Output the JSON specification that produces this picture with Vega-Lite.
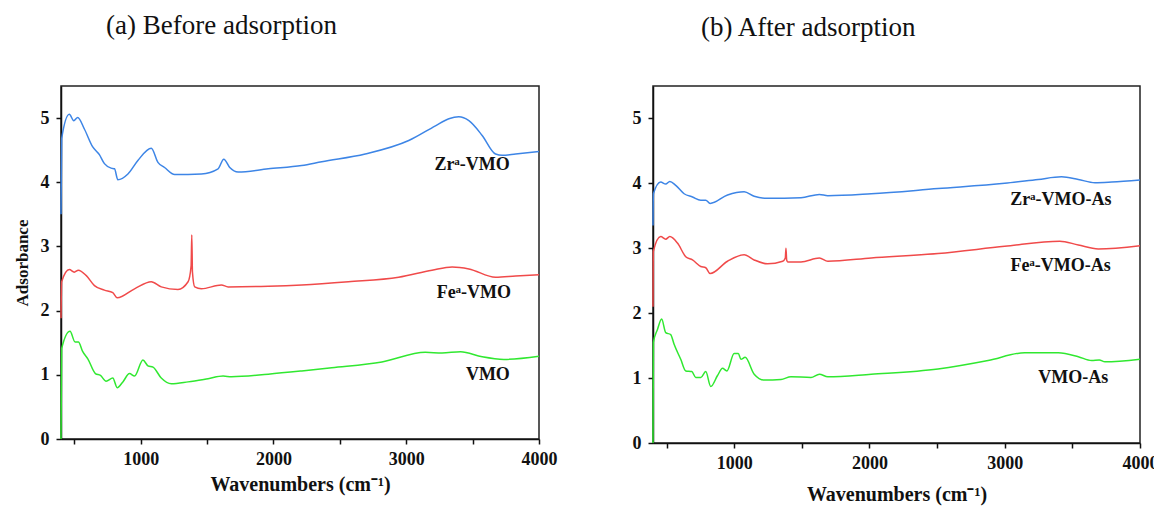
{
  "$schema": "https://vega.github.io/schema/vega-lite/v6.json",
  "background": "white",
  "padding": {"left": 12, "top": 11, "right": 0, "bottom": 5},
  "bounds": "flush",
  "spacing": 114,
  "config": {
    "view": {"stroke": "#222", "strokeWidth": 1.5},
    "font": "Liberation Serif",
    "style": {"guide-label": {"font": "Liberation Serif", "fontWeight": "bold"}, "guide-title": {"font": "Liberation Serif", "fontWeight": "bold"}},
    "axis": {
      "grid": false,
      "domainColor": "#111",
      "domainWidth": 1.5,
      "tickColor": "#111",
      "tickWidth": 1.5,
      "tickSize": 5,
      "labelFont": "Liberation Serif",
      "labelFontWeight": "bold",
      "labelFontSize": 18,
      "labelColor": "#111",
      "labelOverlap": false,
      "labelFlush": false,
      "titleFont": "Liberation Serif",
      "titleFontWeight": "bold",
      "titleColor": "#111"
    },
    "title": {"font": "Liberation Serif", "fontWeight": "normal", "fontSize": 27, "color": "#111", "anchor": "start", "frame": "group"}
  },
  "datasets": {
    "before": [
      {"series": "Zr", "x": 400, "y": 3.5},
      {"series": "Zr", "x": 405, "y": 4.68},
      {"series": "Zr", "x": 463, "y": 5.06},
      {"series": "Zr", "x": 496, "y": 4.96},
      {"series": "Zr", "x": 526, "y": 5.01},
      {"series": "Zr", "x": 576, "y": 4.83},
      {"series": "Zr", "x": 639, "y": 4.55},
      {"series": "Zr", "x": 689, "y": 4.43},
      {"series": "Zr", "x": 727, "y": 4.29},
      {"series": "Zr", "x": 778, "y": 4.22},
      {"series": "Zr", "x": 803, "y": 4.21},
      {"series": "Zr", "x": 828, "y": 4.04},
      {"series": "Zr", "x": 904, "y": 4.13},
      {"series": "Zr", "x": 979, "y": 4.34},
      {"series": "Zr", "x": 1080, "y": 4.53},
      {"series": "Zr", "x": 1130, "y": 4.31},
      {"series": "Zr", "x": 1180, "y": 4.23},
      {"series": "Zr", "x": 1256, "y": 4.12},
      {"series": "Zr", "x": 1457, "y": 4.13},
      {"series": "Zr", "x": 1583, "y": 4.21},
      {"series": "Zr", "x": 1626, "y": 4.36},
      {"series": "Zr", "x": 1671, "y": 4.23},
      {"series": "Zr", "x": 1734, "y": 4.16},
      {"series": "Zr", "x": 1961, "y": 4.21},
      {"series": "Zr", "x": 2213, "y": 4.26},
      {"series": "Zr", "x": 2364, "y": 4.32},
      {"series": "Zr", "x": 2691, "y": 4.44},
      {"series": "Zr", "x": 3019, "y": 4.65},
      {"series": "Zr", "x": 3220, "y": 4.88},
      {"series": "Zr", "x": 3321, "y": 4.99},
      {"series": "Zr", "x": 3396, "y": 5.02},
      {"series": "Zr", "x": 3472, "y": 4.96},
      {"series": "Zr", "x": 3572, "y": 4.73},
      {"series": "Zr", "x": 3673, "y": 4.44},
      {"series": "Zr", "x": 3723, "y": 4.42},
      {"series": "Zr", "x": 3824, "y": 4.44},
      {"series": "Zr", "x": 4000, "y": 4.48},
      {"series": "Fe", "x": 400, "y": 1.88},
      {"series": "Fe", "x": 405, "y": 2.45},
      {"series": "Fe", "x": 463, "y": 2.64},
      {"series": "Fe", "x": 500, "y": 2.6},
      {"series": "Fe", "x": 530, "y": 2.63},
      {"series": "Fe", "x": 589, "y": 2.55},
      {"series": "Fe", "x": 652, "y": 2.39},
      {"series": "Fe", "x": 727, "y": 2.32},
      {"series": "Fe", "x": 790, "y": 2.28},
      {"series": "Fe", "x": 823, "y": 2.2},
      {"series": "Fe", "x": 954, "y": 2.34},
      {"series": "Fe", "x": 1080, "y": 2.45},
      {"series": "Fe", "x": 1155, "y": 2.37},
      {"series": "Fe", "x": 1281, "y": 2.33},
      {"series": "Fe", "x": 1357, "y": 2.45},
      {"series": "Fe", "x": 1380, "y": 2.7},
      {"series": "Fe", "x": 1385, "y": 3.18},
      {"series": "Fe", "x": 1390, "y": 2.6},
      {"series": "Fe", "x": 1407, "y": 2.37},
      {"series": "Fe", "x": 1457, "y": 2.34},
      {"series": "Fe", "x": 1608, "y": 2.4},
      {"series": "Fe", "x": 1659, "y": 2.37},
      {"series": "Fe", "x": 1961, "y": 2.38},
      {"series": "Fe", "x": 2213, "y": 2.4},
      {"series": "Fe", "x": 2565, "y": 2.45},
      {"series": "Fe", "x": 2943, "y": 2.52},
      {"series": "Fe", "x": 3194, "y": 2.63},
      {"series": "Fe", "x": 3346, "y": 2.68},
      {"series": "Fe", "x": 3472, "y": 2.65},
      {"series": "Fe", "x": 3673, "y": 2.52},
      {"series": "Fe", "x": 3824, "y": 2.54},
      {"series": "Fe", "x": 4000, "y": 2.56},
      {"series": "VMO", "x": 400, "y": 0},
      {"series": "VMO", "x": 405, "y": 1.41},
      {"series": "VMO", "x": 468, "y": 1.68},
      {"series": "VMO", "x": 506, "y": 1.51},
      {"series": "VMO", "x": 531, "y": 1.51},
      {"series": "VMO", "x": 564, "y": 1.36},
      {"series": "VMO", "x": 602, "y": 1.25},
      {"series": "VMO", "x": 659, "y": 1.02},
      {"series": "VMO", "x": 697, "y": 0.99},
      {"series": "VMO", "x": 740, "y": 0.9},
      {"series": "VMO", "x": 790, "y": 0.95},
      {"series": "VMO", "x": 823, "y": 0.8},
      {"series": "VMO", "x": 866, "y": 0.89},
      {"series": "VMO", "x": 916, "y": 1.02},
      {"series": "VMO", "x": 954, "y": 0.98},
      {"series": "VMO", "x": 1017, "y": 1.23},
      {"series": "VMO", "x": 1055, "y": 1.14},
      {"series": "VMO", "x": 1093, "y": 1.12},
      {"series": "VMO", "x": 1155, "y": 0.95},
      {"series": "VMO", "x": 1231, "y": 0.86},
      {"series": "VMO", "x": 1357, "y": 0.89},
      {"series": "VMO", "x": 1508, "y": 0.94},
      {"series": "VMO", "x": 1621, "y": 0.98},
      {"series": "VMO", "x": 1684, "y": 0.97},
      {"series": "VMO", "x": 1961, "y": 1.01},
      {"series": "VMO", "x": 2213, "y": 1.06},
      {"series": "VMO", "x": 2439, "y": 1.11},
      {"series": "VMO", "x": 2817, "y": 1.2},
      {"series": "VMO", "x": 3144, "y": 1.35},
      {"series": "VMO", "x": 3270, "y": 1.34},
      {"series": "VMO", "x": 3409, "y": 1.36},
      {"series": "VMO", "x": 3572, "y": 1.28},
      {"series": "VMO", "x": 3736, "y": 1.24},
      {"series": "VMO", "x": 4000, "y": 1.29}
    ],
    "after": [
      {"series": "Zr", "x": 400, "y": 3.35},
      {"series": "Zr", "x": 403, "y": 3.84},
      {"series": "Zr", "x": 457, "y": 4.02},
      {"series": "Zr", "x": 494, "y": 3.99},
      {"series": "Zr", "x": 524, "y": 4.03},
      {"series": "Zr", "x": 568, "y": 3.97},
      {"series": "Zr", "x": 630, "y": 3.84},
      {"series": "Zr", "x": 692, "y": 3.79},
      {"series": "Zr", "x": 753, "y": 3.74},
      {"series": "Zr", "x": 790, "y": 3.74},
      {"series": "Zr", "x": 822, "y": 3.69},
      {"series": "Zr", "x": 951, "y": 3.82},
      {"series": "Zr", "x": 1074, "y": 3.87},
      {"series": "Zr", "x": 1148, "y": 3.8},
      {"series": "Zr", "x": 1247, "y": 3.77},
      {"series": "Zr", "x": 1494, "y": 3.78},
      {"series": "Zr", "x": 1630, "y": 3.83},
      {"series": "Zr", "x": 1692, "y": 3.81},
      {"series": "Zr", "x": 2013, "y": 3.84},
      {"series": "Zr", "x": 2507, "y": 3.92},
      {"series": "Zr", "x": 3000, "y": 4.0},
      {"series": "Zr", "x": 3247, "y": 4.06},
      {"series": "Zr", "x": 3420, "y": 4.1},
      {"series": "Zr", "x": 3544, "y": 4.06},
      {"series": "Zr", "x": 3667, "y": 4.01},
      {"series": "Zr", "x": 3791, "y": 4.02},
      {"series": "Zr", "x": 4000, "y": 4.05},
      {"series": "Fe", "x": 400, "y": 2.1},
      {"series": "Fe", "x": 402, "y": 2.95},
      {"series": "Fe", "x": 457, "y": 3.18},
      {"series": "Fe", "x": 494, "y": 3.14},
      {"series": "Fe", "x": 524, "y": 3.18},
      {"series": "Fe", "x": 581, "y": 3.08},
      {"series": "Fe", "x": 642, "y": 2.87},
      {"series": "Fe", "x": 692, "y": 2.82},
      {"series": "Fe", "x": 753, "y": 2.72},
      {"series": "Fe", "x": 790, "y": 2.7},
      {"series": "Fe", "x": 822, "y": 2.61},
      {"series": "Fe", "x": 951, "y": 2.8},
      {"series": "Fe", "x": 1074, "y": 2.9},
      {"series": "Fe", "x": 1148, "y": 2.82},
      {"series": "Fe", "x": 1247, "y": 2.76},
      {"series": "Fe", "x": 1359, "y": 2.8},
      {"series": "Fe", "x": 1378, "y": 2.85},
      {"series": "Fe", "x": 1383, "y": 3.0},
      {"series": "Fe", "x": 1388, "y": 2.82},
      {"series": "Fe", "x": 1396, "y": 2.79},
      {"series": "Fe", "x": 1494, "y": 2.79},
      {"series": "Fe", "x": 1630, "y": 2.85},
      {"series": "Fe", "x": 1692, "y": 2.8},
      {"series": "Fe", "x": 2013, "y": 2.85},
      {"series": "Fe", "x": 2507, "y": 2.92},
      {"series": "Fe", "x": 3000, "y": 3.03},
      {"series": "Fe", "x": 3407, "y": 3.11},
      {"series": "Fe", "x": 3544, "y": 3.05},
      {"series": "Fe", "x": 3692, "y": 2.99},
      {"series": "Fe", "x": 4000, "y": 3.04},
      {"series": "VMO", "x": 400, "y": 0},
      {"series": "VMO", "x": 403, "y": 1.55},
      {"series": "VMO", "x": 433, "y": 1.75},
      {"series": "VMO", "x": 464, "y": 1.91},
      {"series": "VMO", "x": 494, "y": 1.7},
      {"series": "VMO", "x": 531, "y": 1.67},
      {"series": "VMO", "x": 556, "y": 1.52},
      {"series": "VMO", "x": 605, "y": 1.29},
      {"series": "VMO", "x": 642, "y": 1.11},
      {"series": "VMO", "x": 687, "y": 1.1},
      {"series": "VMO", "x": 716, "y": 1.01},
      {"series": "VMO", "x": 753, "y": 1.01},
      {"series": "VMO", "x": 790, "y": 1.1},
      {"series": "VMO", "x": 827, "y": 0.87},
      {"series": "VMO", "x": 877, "y": 1.04},
      {"series": "VMO", "x": 914, "y": 1.15},
      {"series": "VMO", "x": 946, "y": 1.11},
      {"series": "VMO", "x": 1000, "y": 1.38},
      {"series": "VMO", "x": 1030, "y": 1.38},
      {"series": "VMO", "x": 1050, "y": 1.29},
      {"series": "VMO", "x": 1081, "y": 1.32},
      {"series": "VMO", "x": 1148, "y": 1.06},
      {"series": "VMO", "x": 1222, "y": 0.97},
      {"series": "VMO", "x": 1346, "y": 0.98},
      {"series": "VMO", "x": 1420, "y": 1.02},
      {"series": "VMO", "x": 1568, "y": 1.01},
      {"series": "VMO", "x": 1630, "y": 1.06},
      {"series": "VMO", "x": 1692, "y": 1.02},
      {"series": "VMO", "x": 2013, "y": 1.06},
      {"series": "VMO", "x": 2507, "y": 1.14},
      {"series": "VMO", "x": 2877, "y": 1.27},
      {"series": "VMO", "x": 3148, "y": 1.39},
      {"series": "VMO", "x": 3396, "y": 1.39},
      {"series": "VMO", "x": 3544, "y": 1.33},
      {"series": "VMO", "x": 3642, "y": 1.27},
      {"series": "VMO", "x": 3699, "y": 1.28},
      {"series": "VMO", "x": 3741, "y": 1.25},
      {"series": "VMO", "x": 4000, "y": 1.29}
    ],
    "labelsBefore": [
      {"label": "Zrᵃ-VMO", "x": 3497, "y": 4.27},
      {"label": "Feᵃ-VMO", "x": 3509, "y": 2.28},
      {"label": "VMO", "x": 3615, "y": 1.0}
    ],
    "labelsAfter": [
      {"label": "Zrᵃ-VMO-As", "x": 3415, "y": 3.75},
      {"label": "Feᵃ-VMO-As", "x": 3413, "y": 2.73},
      {"label": "VMO-As", "x": 3506, "y": 1.0}
    ]
  },
  "hconcat": [
    {
      "width": 478,
      "height": 353,
      "title": {"text": "(a) Before adsorption", "dx": 45, "offset": 46},
      "layer": [
        {
          "data": {"name": "before"},
          "mark": {"type": "line", "strokeWidth": 1.5, "interpolate": "monotone"},
          "encoding": {
            "x": {"field": "x", "type": "quantitative", "scale": {"domain": [400, 4000], "nice": false, "zero": false},
              "axis": {"values": [500, 1000, 1500, 2000, 2500, 3000, 3500, 4000], "format": "d", "labelExpr": "datum.value % 1000 === 0 ? datum.label : ''", "labelFont": "Liberation Serif", "labelPadding": 6, "title": "Wavenumbers (cm⁻¹)", "titleFontSize": 20, "titlePadding": 6}},
            "y": {"field": "y", "type": "quantitative", "scale": {"domain": [0, 5.5], "nice": false},
              "axis": {"values": [0, 0.5, 1, 1.5, 2, 2.5, 3, 3.5, 4, 4.5, 5], "format": "d", "labelExpr": "datum.value % 1 === 0 ? datum.label : ''", "labelFont": "Liberation Serif", "labelPadding": 7, "title": "Adsorbance", "titleFontSize": 17, "titlePadding": 9}},
            "color": {"field": "series", "type": "nominal", "scale": {"domain": ["Zr", "Fe", "VMO"], "range": ["#3d85e6", "#f04a4a", "#30e830"]}, "legend": null},
            "detail": {"field": "series"}
          }
        },
        {
          "data": {"name": "labelsBefore"},
          "mark": {"type": "text", "font": "Liberation Serif", "fontWeight": "bold", "fontSize": 18, "color": "#111"},
          "encoding": {
            "x": {"field": "x", "type": "quantitative"},
            "y": {"field": "y", "type": "quantitative"},
            "text": {"field": "label"}
          }
        }
      ]
    },
    {
      "width": 487,
      "height": 357,
      "title": {"text": "(b) After adsorption", "dx": 48, "offset": 44},
      "layer": [
        {
          "data": {"name": "after"},
          "mark": {"type": "line", "strokeWidth": 1.5, "interpolate": "monotone"},
          "encoding": {
            "x": {"field": "x", "type": "quantitative", "scale": {"domain": [400, 4000], "nice": false, "zero": false},
              "axis": {"values": [500, 1000, 1500, 2000, 2500, 3000, 3500, 4000], "format": "d", "labelExpr": "datum.value % 1000 === 0 ? datum.label : ''", "labelFont": "Liberation Serif", "labelPadding": 6, "title": "Wavenumbers (cm⁻¹)", "titleFontSize": 20, "titlePadding": 12}},
            "y": {"field": "y", "type": "quantitative", "scale": {"domain": [0, 5.5], "nice": false},
              "axis": {"values": [0, 0.5, 1, 1.5, 2, 2.5, 3, 3.5, 4, 4.5, 5], "format": "d", "labelExpr": "datum.value % 1 === 0 ? datum.label : ''", "labelFont": "Liberation Serif", "labelPadding": 7, "title": null}},
            "color": {"field": "series", "type": "nominal", "scale": {"domain": ["Zr", "Fe", "VMO"], "range": ["#3d85e6", "#f04a4a", "#30e830"]}, "legend": null},
            "detail": {"field": "series"}
          }
        },
        {
          "data": {"name": "labelsAfter"},
          "mark": {"type": "text", "font": "Liberation Serif", "fontWeight": "bold", "fontSize": 18, "color": "#111"},
          "encoding": {
            "x": {"field": "x", "type": "quantitative"},
            "y": {"field": "y", "type": "quantitative"},
            "text": {"field": "label"}
          }
        }
      ]
    }
  ]
}
